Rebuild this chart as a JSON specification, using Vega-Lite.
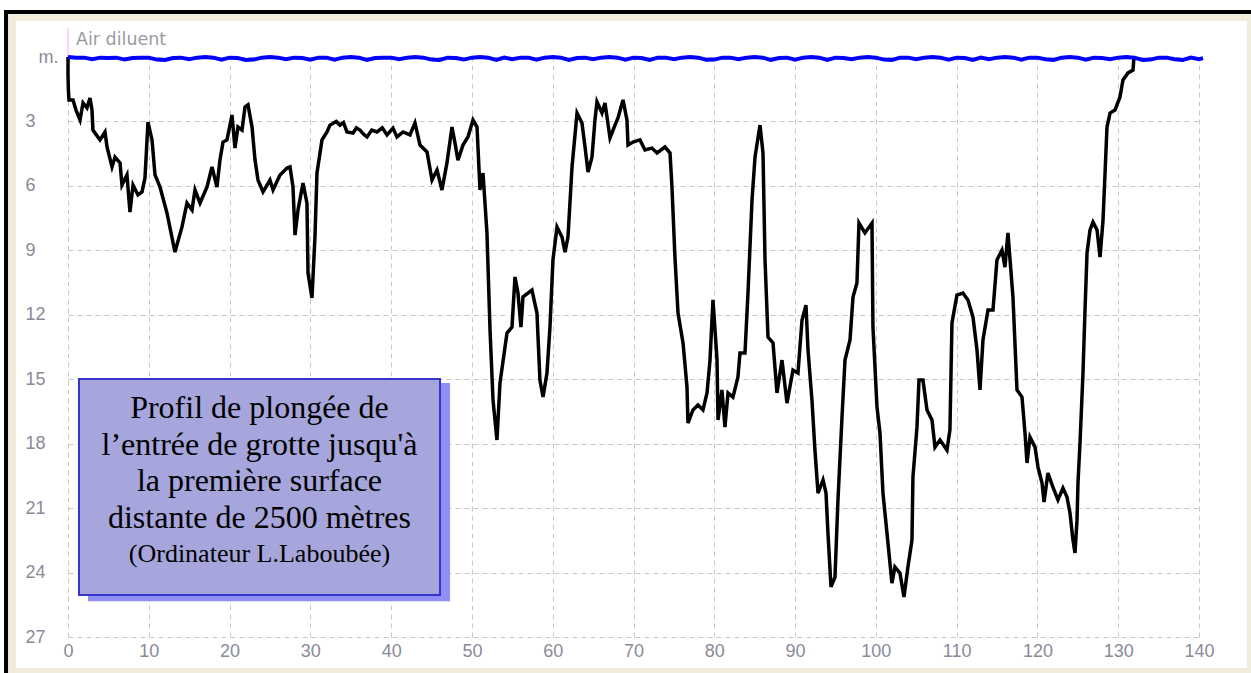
{
  "$schema": "https://vega.github.io/schema/vega-lite/v6.json",
  "width": 1131,
  "height": 580,
  "autosize": {"type": "none"},
  "padding": {"left": 68, "top": 57, "right": 52, "bottom": 36},
  "background": "white",
  "config": {
    "view": {"stroke": null},
    "axis": {"title": null, "domain": false, "ticks": false, "gridColor": "#c8c8c8", "gridDash": [5, 4], "gridWidth": 1, "labelFont": "Liberation Sans", "labelFontSize": 18, "labelColor": "#8a8a9a", "labelOverlap": false, "labelFlush": false}
  },
  "datasets": {
    "profile": [
      {"t": 0, "d": 0}, {"t": 0, "d": 0.84}, {"t": 0.05, "d": 1.54}, {"t": 0.12, "d": 2.0}, {"t": 0.62, "d": 2.0}, {"t": 0.99, "d": 2.47},
      {"t": 1.49, "d": 2.93}, {"t": 1.86, "d": 2.14}, {"t": 2.35, "d": 2.37}, {"t": 2.72, "d": 1.91}, {"t": 2.97, "d": 2.47}, {"t": 3.09, "d": 3.4},
      {"t": 3.96, "d": 3.86}, {"t": 4.58, "d": 3.49}, {"t": 4.83, "d": 4.19}, {"t": 5.45, "d": 5.12}, {"t": 5.82, "d": 4.66}, {"t": 6.44, "d": 4.93},
      {"t": 6.68, "d": 5.96}, {"t": 7.3, "d": 5.49}, {"t": 7.67, "d": 7.22}, {"t": 8.05, "d": 5.96}, {"t": 8.66, "d": 6.42}, {"t": 9.16, "d": 6.28},
      {"t": 9.53, "d": 5.63}, {"t": 9.9, "d": 3.03}, {"t": 10.4, "d": 3.86}, {"t": 10.77, "d": 5.49}, {"t": 11.39, "d": 6.05}, {"t": 12.25, "d": 7.26},
      {"t": 13.24, "d": 9.08}, {"t": 14.11, "d": 7.91}, {"t": 14.73, "d": 6.8}, {"t": 15.35, "d": 7.12}, {"t": 15.72, "d": 6.19}, {"t": 16.34, "d": 6.8},
      {"t": 17.21, "d": 6.05}, {"t": 17.82, "d": 5.12}, {"t": 18.44, "d": 6.05}, {"t": 18.81, "d": 4.8}, {"t": 19.19, "d": 3.96}, {"t": 19.68, "d": 3.86},
      {"t": 20.3, "d": 2.7}, {"t": 20.67, "d": 4.24}, {"t": 21.04, "d": 3.26}, {"t": 21.54, "d": 3.4}, {"t": 21.91, "d": 2.33}, {"t": 22.28, "d": 2.23},
      {"t": 22.78, "d": 3.26}, {"t": 23.15, "d": 4.8}, {"t": 23.52, "d": 5.73}, {"t": 24.14, "d": 6.28}, {"t": 25.0, "d": 5.73}, {"t": 25.38, "d": 6.19},
      {"t": 26.24, "d": 5.49}, {"t": 27.11, "d": 5.17}, {"t": 27.48, "d": 5.12}, {"t": 27.85, "d": 6.05}, {"t": 28.1, "d": 8.29}, {"t": 28.47, "d": 7.12},
      {"t": 29.09, "d": 5.87}, {"t": 29.58, "d": 6.8}, {"t": 29.71, "d": 10.06}, {"t": 30.2, "d": 11.22}, {"t": 30.57, "d": 8.38}, {"t": 30.82, "d": 5.4},
      {"t": 31.44, "d": 3.86}, {"t": 32.06, "d": 3.49}, {"t": 32.43, "d": 3.17}, {"t": 33.2, "d": 3.0}, {"t": 33.67, "d": 3.17}, {"t": 34.1, "d": 3.05}, {"t": 34.53, "d": 3.49}, {"t": 35.28, "d": 3.54},
      {"t": 35.7, "d": 3.3}, {"t": 36.14, "d": 3.4}, {"t": 36.6, "d": 3.6}, {"t": 37.01, "d": 3.72}, {"t": 37.6, "d": 3.4}, {"t": 38.25, "d": 3.49}, {"t": 38.9, "d": 3.3}, {"t": 39.49, "d": 3.63}, {"t": 40.23, "d": 3.31}, {"t": 40.72, "d": 3.72},
      {"t": 41.47, "d": 3.49}, {"t": 42.33, "d": 3.63}, {"t": 42.95, "d": 3.07}, {"t": 43.57, "d": 4.1}, {"t": 44.44, "d": 4.42}, {"t": 45.06, "d": 5.73},
      {"t": 45.68, "d": 5.26}, {"t": 46.29, "d": 6.19}, {"t": 46.91, "d": 4.93}, {"t": 47.53, "d": 3.26}, {"t": 47.9, "d": 4.0}, {"t": 48.27, "d": 4.8},
      {"t": 48.89, "d": 4.1}, {"t": 49.51, "d": 3.72}, {"t": 50.13, "d": 2.93}, {"t": 50.63, "d": 3.26}, {"t": 51.0, "d": 6.19}, {"t": 51.37, "d": 5.4},
      {"t": 51.86, "d": 8.19}, {"t": 52.24, "d": 12.71}, {"t": 52.61, "d": 15.97}, {"t": 53.1, "d": 17.83}, {"t": 53.47, "d": 15.18}, {"t": 54.34, "d": 12.85},
      {"t": 54.96, "d": 12.57}, {"t": 55.33, "d": 10.24}, {"t": 55.7, "d": 10.99}, {"t": 56.07, "d": 12.57}, {"t": 56.32, "d": 11.17}, {"t": 57.43, "d": 10.85},
      {"t": 58.05, "d": 11.92}, {"t": 58.42, "d": 15.04}, {"t": 58.8, "d": 15.83}, {"t": 59.29, "d": 14.71}, {"t": 59.66, "d": 12.57}, {"t": 60.03, "d": 9.45},
      {"t": 60.53, "d": 7.91}, {"t": 61.15, "d": 8.38}, {"t": 61.52, "d": 9.08}, {"t": 61.89, "d": 8.38}, {"t": 62.39, "d": 5.12}, {"t": 63.01, "d": 2.61},
      {"t": 63.62, "d": 3.07}, {"t": 64.0, "d": 4.19}, {"t": 64.37, "d": 5.35}, {"t": 64.86, "d": 4.66}, {"t": 65.23, "d": 2.93}, {"t": 65.48, "d": 2.09},
      {"t": 66.1, "d": 2.61}, {"t": 66.47, "d": 2.14}, {"t": 67.09, "d": 3.77}, {"t": 67.71, "d": 3.17}, {"t": 68.08, "d": 2.84}, {"t": 68.7, "d": 2.0},
      {"t": 69.19, "d": 2.93}, {"t": 69.32, "d": 4.1}, {"t": 69.94, "d": 3.96}, {"t": 70.8, "d": 3.86}, {"t": 71.42, "d": 4.33}, {"t": 72.29, "d": 4.24},
      {"t": 72.91, "d": 4.47}, {"t": 73.9, "d": 4.19}, {"t": 74.52, "d": 4.47}, {"t": 74.76, "d": 6.05}, {"t": 75.13, "d": 9.31}, {"t": 75.51, "d": 11.92},
      {"t": 76.13, "d": 13.31}, {"t": 76.62, "d": 15.36}, {"t": 76.74, "d": 17.04}, {"t": 77.36, "d": 16.43}, {"t": 77.98, "d": 16.2}, {"t": 78.6, "d": 16.43},
      {"t": 79.1, "d": 15.64}, {"t": 79.47, "d": 14.11}, {"t": 79.84, "d": 11.31}, {"t": 80.34, "d": 14.11}, {"t": 80.46, "d": 16.9}, {"t": 80.95, "d": 15.5},
      {"t": 81.32, "d": 17.23}, {"t": 81.7, "d": 15.64}, {"t": 82.31, "d": 15.83}, {"t": 82.93, "d": 14.9}, {"t": 83.18, "d": 13.78}, {"t": 83.8, "d": 13.78},
      {"t": 84.17, "d": 10.99}, {"t": 84.67, "d": 6.66}, {"t": 85.04, "d": 4.66}, {"t": 85.66, "d": 3.17}, {"t": 86.03, "d": 4.47}, {"t": 86.28, "d": 9.45},
      {"t": 86.65, "d": 13.04}, {"t": 87.27, "d": 13.31}, {"t": 87.76, "d": 15.64}, {"t": 88.38, "d": 14.11}, {"t": 89.0, "d": 16.11}, {"t": 89.74, "d": 14.57},
      {"t": 90.36, "d": 14.71}, {"t": 90.86, "d": 12.24}, {"t": 91.35, "d": 11.55}, {"t": 91.6, "d": 13.64}, {"t": 92.09, "d": 15.97}, {"t": 92.46, "d": 18.3},
      {"t": 92.84, "d": 20.3}, {"t": 93.46, "d": 19.69}, {"t": 93.83, "d": 20.3}, {"t": 94.07, "d": 22.16}, {"t": 94.45, "d": 24.67}, {"t": 94.94, "d": 24.21},
      {"t": 95.31, "d": 20.62}, {"t": 95.81, "d": 16.76}, {"t": 96.18, "d": 14.11}, {"t": 96.8, "d": 13.17}, {"t": 97.17, "d": 11.17}, {"t": 97.66, "d": 10.52},
      {"t": 97.91, "d": 7.73}, {"t": 98.65, "d": 8.19}, {"t": 99.52, "d": 7.73}, {"t": 99.64, "d": 12.57}, {"t": 100.14, "d": 16.29}, {"t": 100.51, "d": 17.5},
      {"t": 100.88, "d": 20.3}, {"t": 101.5, "d": 22.63}, {"t": 101.99, "d": 24.49}, {"t": 102.36, "d": 23.74}, {"t": 102.98, "d": 24.02}, {"t": 103.48, "d": 25.14},
      {"t": 103.97, "d": 23.74}, {"t": 104.47, "d": 22.49}, {"t": 104.59, "d": 19.55}, {"t": 105.09, "d": 17.23}, {"t": 105.34, "d": 15.04}, {"t": 105.83, "d": 15.04},
      {"t": 106.33, "d": 16.43}, {"t": 106.95, "d": 16.9}, {"t": 107.32, "d": 18.16}, {"t": 107.94, "d": 17.83}, {"t": 108.8, "d": 18.3}, {"t": 109.17, "d": 17.36},
      {"t": 109.42, "d": 12.38}, {"t": 110.04, "d": 11.08}, {"t": 110.78, "d": 10.99}, {"t": 111.4, "d": 11.31}, {"t": 112.02, "d": 12.1}, {"t": 112.52, "d": 13.64},
      {"t": 112.89, "d": 15.5}, {"t": 113.26, "d": 13.17}, {"t": 113.88, "d": 11.78}, {"t": 114.5, "d": 11.78}, {"t": 114.99, "d": 9.45}, {"t": 115.61, "d": 8.99},
      {"t": 115.98, "d": 9.78}, {"t": 116.35, "d": 8.19}, {"t": 116.97, "d": 11.17}, {"t": 117.47, "d": 15.5}, {"t": 118.09, "d": 15.83}, {"t": 118.46, "d": 17.5},
      {"t": 118.71, "d": 18.9}, {"t": 119.08, "d": 17.69}, {"t": 119.7, "d": 18.16}, {"t": 120.07, "d": 19.09}, {"t": 120.57, "d": 19.83}, {"t": 120.82, "d": 20.72},
      {"t": 121.3, "d": 19.37}, {"t": 121.92, "d": 20.02}, {"t": 122.54, "d": 20.62}, {"t": 123.16, "d": 20.07}, {"t": 123.66, "d": 20.48}, {"t": 124.03, "d": 21.23},
      {"t": 124.4, "d": 22.49}, {"t": 124.65, "d": 23.09}, {"t": 124.9, "d": 21.56}, {"t": 125.02, "d": 19.83}, {"t": 125.27, "d": 17.97}, {"t": 125.64, "d": 14.71},
      {"t": 125.89, "d": 11.78}, {"t": 126.14, "d": 9.12}, {"t": 126.51, "d": 8.05}, {"t": 126.88, "d": 7.68}, {"t": 127.38, "d": 8.05}, {"t": 127.75, "d": 9.31},
      {"t": 128.12, "d": 7.59}, {"t": 128.37, "d": 5.4}, {"t": 128.61, "d": 3.26}, {"t": 128.99, "d": 2.61}, {"t": 129.6, "d": 2.47}, {"t": 130.22, "d": 1.86},
      {"t": 130.59, "d": 1.07}, {"t": 131.21, "d": 0.74}, {"t": 131.83, "d": 0.61}, {"t": 131.95, "d": 0.0}
    ],
    "diluent": [
      {"t": 0, "d": 0.0}, {"t": 1, "d": 0.03}, {"t": 2, "d": 0.03}, {"t": 3, "d": 0.1}, {"t": 4, "d": 0.03}, {"t": 5, "d": 0.05}, {"t": 6, "d": 0.03}, {"t": 7, "d": 0.12},
      {"t": 8, "d": 0.05}, {"t": 9, "d": 0.03}, {"t": 10, "d": 0.03}, {"t": 11, "d": 0.12}, {"t": 12, "d": 0.14}, {"t": 13, "d": 0.05}, {"t": 14, "d": 0.03}, {"t": 15, "d": 0.1},
      {"t": 16, "d": 0.03}, {"t": 17, "d": 0.0}, {"t": 18, "d": 0.03}, {"t": 19, "d": 0.12}, {"t": 20, "d": 0.03}, {"t": 21, "d": 0.05}, {"t": 22, "d": 0.14}, {"t": 23, "d": 0.12},
      {"t": 24, "d": 0.03}, {"t": 25, "d": 0.0}, {"t": 26, "d": 0.03}, {"t": 27, "d": 0.1}, {"t": 28, "d": 0.03}, {"t": 29, "d": 0.05}, {"t": 30, "d": 0.13}, {"t": 31, "d": 0.03},
      {"t": 32, "d": 0.03}, {"t": 33, "d": 0.12}, {"t": 34, "d": 0.03}, {"t": 35, "d": 0.0}, {"t": 36, "d": 0.03}, {"t": 37, "d": 0.14}, {"t": 38, "d": 0.05}, {"t": 39, "d": 0.03},
      {"t": 40, "d": 0.03}, {"t": 41, "d": 0.1}, {"t": 42, "d": 0.03}, {"t": 43, "d": 0.0}, {"t": 44, "d": 0.03}, {"t": 45, "d": 0.12}, {"t": 46, "d": 0.14}, {"t": 47, "d": 0.03},
      {"t": 48, "d": 0.05}, {"t": 49, "d": 0.12}, {"t": 50, "d": 0.03}, {"t": 51, "d": 0.0}, {"t": 52, "d": 0.03}, {"t": 53, "d": 0.14}, {"t": 54, "d": 0.03}, {"t": 55, "d": 0.1},
      {"t": 56, "d": 0.03}, {"t": 57, "d": 0.03}, {"t": 58, "d": 0.12}, {"t": 59, "d": 0.03}, {"t": 60, "d": 0.0}, {"t": 61, "d": 0.03}, {"t": 62, "d": 0.14}, {"t": 63, "d": 0.05},
      {"t": 64, "d": 0.03}, {"t": 65, "d": 0.1}, {"t": 66, "d": 0.03}, {"t": 67, "d": 0.0}, {"t": 68, "d": 0.03}, {"t": 69, "d": 0.12}, {"t": 70, "d": 0.03}, {"t": 71, "d": 0.05},
      {"t": 72, "d": 0.14}, {"t": 73, "d": 0.03}, {"t": 74, "d": 0.03}, {"t": 75, "d": 0.1}, {"t": 76, "d": 0.03}, {"t": 77, "d": 0.0}, {"t": 78, "d": 0.03}, {"t": 79, "d": 0.13},
      {"t": 80, "d": 0.12}, {"t": 81, "d": 0.03}, {"t": 82, "d": 0.03}, {"t": 83, "d": 0.1}, {"t": 84, "d": 0.03}, {"t": 85, "d": 0.0}, {"t": 86, "d": 0.03}, {"t": 87, "d": 0.14},
      {"t": 88, "d": 0.05}, {"t": 89, "d": 0.03}, {"t": 90, "d": 0.12}, {"t": 91, "d": 0.03}, {"t": 92, "d": 0.0}, {"t": 93, "d": 0.03}, {"t": 94, "d": 0.14}, {"t": 95, "d": 0.03},
      {"t": 96, "d": 0.05}, {"t": 97, "d": 0.1}, {"t": 98, "d": 0.03}, {"t": 99, "d": 0.0}, {"t": 100, "d": 0.03}, {"t": 101, "d": 0.12}, {"t": 102, "d": 0.14}, {"t": 103, "d": 0.03},
      {"t": 104, "d": 0.03}, {"t": 105, "d": 0.1}, {"t": 106, "d": 0.03}, {"t": 107, "d": 0.0}, {"t": 108, "d": 0.03}, {"t": 109, "d": 0.12}, {"t": 110, "d": 0.03}, {"t": 111, "d": 0.05},
      {"t": 112, "d": 0.14}, {"t": 113, "d": 0.03}, {"t": 114, "d": 0.1}, {"t": 115, "d": 0.03}, {"t": 116, "d": 0.0}, {"t": 117, "d": 0.03}, {"t": 118, "d": 0.12}, {"t": 119, "d": 0.03},
      {"t": 120, "d": 0.03}, {"t": 121, "d": 0.1}, {"t": 122, "d": 0.14}, {"t": 123, "d": 0.03}, {"t": 124, "d": 0.0}, {"t": 125, "d": 0.03}, {"t": 126, "d": 0.12}, {"t": 127, "d": 0.03},
      {"t": 128, "d": 0.05}, {"t": 129, "d": 0.1}, {"t": 130, "d": 0.03}, {"t": 131, "d": 0.0}, {"t": 132, "d": 0.03}, {"t": 133, "d": 0.14}, {"t": 134, "d": 0.12}, {"t": 135, "d": 0.03},
      {"t": 136, "d": 0.03}, {"t": 137, "d": 0.1}, {"t": 138, "d": 0.14}, {"t": 139, "d": 0.03}, {"t": 140, "d": 0.1}, {"t": 140.5, "d": 0.05}
    ]
  },
  "layer": [
    {
      "data": {"values": [{}]},
      "mark": {"type": "rect", "filled": false, "stroke": "#f1eddd", "strokeWidth": 8},
      "encoding": {
        "x": {"datum": -6.93, "type": "quantitative", "scale": {"domain": [0, 140]}},
        "x2": {"datum": 146.43},
        "y": {"datum": -1.86, "type": "quantitative", "scale": {"domain": [0, 27], "reverse": true}},
        "y2": {"datum": 28.63}
      }
    },
    {
      "data": {"values": [{}]},
      "mark": {"type": "rect", "filled": false, "stroke": "#000000", "strokeWidth": 4},
      "encoding": {
        "x": {"datum": -7.67, "type": "quantitative", "scale": {"domain": [0, 140]}},
        "x2": {"datum": 148.8},
        "y": {"datum": -2.1, "type": "quantitative", "scale": {"domain": [0, 27], "reverse": true}},
        "y2": {"datum": 29.5}
      }
    },
    {
      "data": {"values": [{}]},
      "mark": {"type": "rule", "color": "#ffa8ff", "strokeWidth": 1},
      "encoding": {
        "x": {"datum": 0, "type": "quantitative", "scale": {"domain": [0, 140]}},
        "y": {"datum": -1.35, "type": "quantitative", "scale": {"domain": [0, 27], "reverse": true}},
        "y2": {"datum": 0}
      }
    },
    {
      "data": {"values": [{}]},
      "mark": {"type": "text", "text": "Air diluent", "font": "DejaVu Sans", "fontSize": 17.5, "color": "#9a9aa4", "align": "left", "baseline": "middle", "dx": 8},
      "encoding": {
        "x": {"datum": 0, "type": "quantitative", "scale": {"domain": [0, 140]}},
        "y": {"datum": -0.8, "type": "quantitative", "scale": {"domain": [0, 27], "reverse": true}}
      }
    },
    {
      "data": {"values": [{}]},
      "mark": {"type": "rect", "fill": "#8f8ff5", "stroke": null},
      "encoding": {
        "x": {"datum": 2.48, "type": "quantitative", "scale": {"domain": [0, 140]}},
        "x2": {"datum": 47.29},
        "y": {"datum": 15.18, "type": "quantitative", "scale": {"domain": [0, 27], "reverse": true}},
        "y2": {"datum": 25.33}
      }
    },
    {
      "data": {"values": [{}]},
      "mark": {"type": "rect", "fill": "#a6a6dc", "stroke": "#3535cc", "strokeWidth": 2},
      "encoding": {
        "x": {"datum": 1.36, "type": "quantitative", "scale": {"domain": [0, 140]}},
        "x2": {"datum": 46.05},
        "y": {"datum": 14.99, "type": "quantitative", "scale": {"domain": [0, 27], "reverse": true}},
        "y2": {"datum": 25.05}
      }
    },
    {
      "data": {"values": [{}]},
      "mark": {"type": "text", "text": ["Profil de plongée de", "l’entrée de grotte jusqu'à", "la première surface", "distante de 2500 mètres"], "font": "Liberation Serif", "fontSize": 32, "lineHeight": 36.7, "color": "#000000", "align": "center", "baseline": "alphabetic"},
      "encoding": {
        "x": {"datum": 23.7, "type": "quantitative", "scale": {"domain": [0, 140]}},
        "y": {"datum": 16.81, "type": "quantitative", "scale": {"domain": [0, 27], "reverse": true}}
      }
    },
    {
      "data": {"values": [{}]},
      "mark": {"type": "text", "text": "(Ordinateur L.Laboubée)", "font": "Liberation Serif", "fontSize": 26, "color": "#000000", "align": "center", "baseline": "alphabetic"},
      "encoding": {
        "x": {"datum": 23.7, "type": "quantitative", "scale": {"domain": [0, 140]}},
        "y": {"datum": 23.51, "type": "quantitative", "scale": {"domain": [0, 27], "reverse": true}}
      }
    },
    {
      "data": {"name": "profile"},
      "mark": {"type": "line", "color": "#000000", "strokeWidth": 3.5, "strokeJoin": "miter"},
      "encoding": {
        "x": {
          "field": "t", "type": "quantitative",
          "scale": {"domain": [0, 140], "nice": false, "zero": false},
          "axis": {"values": [0, 10, 20, 30, 40, 50, 60, 70, 80, 90, 100, 110, 120, 130, 140], "labelPadding": 5, "grid": true}
        },
        "y": {
          "field": "d", "type": "quantitative",
          "scale": {"domain": [0, 27], "reverse": true, "nice": false},
          "axis": {
            "values": [0, 3, 6, 9, 12, 15, 18, 21, 24, 27],
            "grid": true,
            "labelExpr": "datum.value == 0 ? 'm.' : datum.label",
            "labelAlign": {"condition": {"test": "datum.value == 0", "value": "right"}, "value": "left"},
            "labelPadding": {"condition": {"test": "datum.value == 0", "value": 10}, "value": 43},
            "labelBaseline": "middle"
          }
        },
        "order": {"field": "t", "type": "quantitative"}
      }
    },
    {
      "data": {"name": "diluent"},
      "mark": {"type": "line", "color": "#0000ff", "strokeWidth": 4},
      "encoding": {
        "x": {"field": "t", "type": "quantitative", "scale": {"domain": [0, 140]}},
        "y": {"field": "d", "type": "quantitative", "scale": {"domain": [0, 27], "reverse": true}},
        "order": {"field": "t", "type": "quantitative"}
      }
    }
  ]
}
